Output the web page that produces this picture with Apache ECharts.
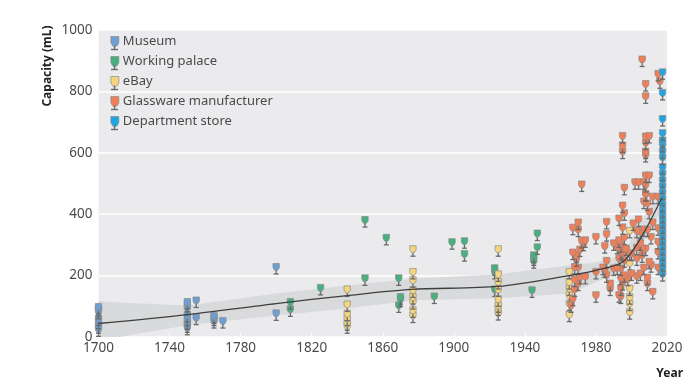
<!DOCTYPE html>
<html><head><meta charset="utf-8">
<style>html,body{margin:0;padding:0;background:#fff}#c{width:700px;height:383px}</style>
<script src="https://cdn.jsdelivr.net/npm/echarts@6/dist/echarts.min.js"></script>
</head><body><div id="c"></div>
<script>
const xTicks=[1700,1740,1780,1820,1860,1900,1940,1980,2020];
const museum=[[1700,98],[1700,90],[1700,82],[1700,60],[1700,50],[1700,35],[1700,25],
[1750,114],[1750,105],[1750,95],[1750,72],[1750,60],[1750,48],[1750,38],[1750,30],
[1755,119],[1755,63],[1765,68],[1765,60],[1765,52],[1770,52],[1800,228],[1800,77]];
const palace=[[1808,114],[1808,90],[1825,160],[1850,381],[1850,191],[1862,323],[1869,191],[1869,103],
[1870,130],[1870,122],[1889,132],[1899,309],[1906,312],[1906,270],[1923,224],[1923,212],[1923,155],
[1944,152],[1945,266],[1945,256],[1945,247],[1947,337],[1947,292]];
const ebay=[[1840,155],[1840,106],[1840,76],[1840,60],[1840,45],[1840,35],
[1877,286],[1877,212],[1877,185],[1877,152],[1877,130],[1877,114],[1877,87],[1877,70],
[1925,286],[1925,204],[1925,179],[1925,155],[1925,123],[1925,103],[1925,93],[1925,78],
[1965,212],[1965,179],[1965,158],[1965,136],[1965,109],[1965,73],
[1999,346],[1999,241],[1999,158],[1999,130],[1999,109],[1999,81]];
const glassware=[[1967,356],[1970,373],[1970,350],[1972,313],[1974,315],[1973,304],[1967,275],[1971,285],[1969,266],[1969,253],
[1968,228],[1970,226],[1971,196],[1974,196],[1968,187],[1970,174],[1968,155],[1967,125],[1966,103],
[1980,326],[1980,212],[1980,136],[1986,375],[1986,335],[1985,296],[1984,226],[1986,248],[1985,217],[1986,201],
[1990,305],[1990,223],[1988,174],[1988,158],[1993,386],[1995,428],[1996,403],[1995,357],[1996,324],[1993,315],[1994,299],
[1992,294],[1994,277],[1995,272],[1993,256],[1996,250],[1992,226],[1994,223],[1996,201],[1994,193],[1995,176],[1994,158],
[1993,136],[1994,132],[1998,190],[2000,272],[2001,370],[2004,383],[2003,346],[2005,343],[2007,350],[2009,350],[2012,373],
[2015,354],[2011,326],[2008,288],[2006,288],[2003,291],[2005,305],[2006,266],[2003,256],[2007,226],[2010,245],[2011,234],
[2000,207],[2003,198],[2005,207],[2009,193],[2009,174],[2012,147],[2007,441],[2008,466],[2012,457],[2015,457],[2010,408],
[2009,435],[1997,288],[1999,272],[2015,310],[2015,277],[2015,226],
[2006,904],[2008,824],[2008,784],[2015,857],[2016,833],[1995,655],[1995,624],[1995,604],[2008,653],[2010,655],[2008,633],
[2008,604],[2008,593],[1972,497],[1996,486],[2002,504],[2004,504],[2007,504],[2008,526],[2010,526],[2008,495],[2008,465]];
const storeYear=2017.5;
const store=[862,795,710,664,640,626,604,585,553,532,510,490,470,450,430,412,395,378,360,342,325,308,290,272,255,238,222,205];
const trendYears=[1700,1750,1800,1840,1876,1925,1965,1980,1995,2005,2017];
const trend=[44,73,109,135,155,165,200,217,244,320,452];
const bandYears=[1700,1712,1750,1800,1840,1876,1925,1965,1980,1995,2005,2017];
const bandLower=[0,0,38,70,93,119,126,142,178,217,289,413];
const bandTop=[117,112,103,142,168,190,204,234,243,266,371,478];
const names=['Museum','Working palace','eBay','Glassware manufacturer','Department store'];
const colors=['#6e9fd2','#47b07e','#f6d67c','#ef7f59','#1fa6e2'];
const STEM='#6a6a6a';
const font='"Noto Sans",sans-serif';

function glass(params,api){
  const p=api.coord([api.value(0),api.value(1)]);
  const col=api.visual('color');
  return {type:'group',x:p[0],y:p[1],children:[
    {type:'line',shape:{x1:0,y1:3,x2:0,y2:7},style:{stroke:STEM,lineWidth:1.3}},
    {type:'line',shape:{x1:-2.5,y1:7,x2:2.5,y2:7},style:{stroke:STEM,lineWidth:1.3}},
    {type:'polygon',shape:{points:[[-3.2,-3.5],[3.2,-3.5],[3.2,0.5],[2.2,2.5],[0.8,3.5],[-0.8,3.5],[-2.2,2.5],[-3.2,0.5]]},
     style:{fill:col,stroke:'#8a8a8a',lineWidth:0.7}}
  ]};
}
function glassSeries(i,data){
  const sorted=data.slice().sort((a,b)=>a[1]-b[1]);
  return {type:'custom',name:names[i],data:sorted,renderItem:glass,clip:false,z:3,
    itemStyle:{color:colors[i]},encode:{x:0,y:1},silent:true,animation:false};
}
function band(params,api){
  if(params.dataIndex!==0) return;
  const top=bandYears.map((y,i)=>api.coord([y,bandTop[i]]));
  const low=bandYears.map((y,i)=>api.coord([y,bandLower[i]])).reverse();
  return {type:'polygon',shape:{points:top.concat(low)},style:{fill:'#d9dadc'}};
}
const legendStems=[0,1,2,3,4].map(i=>{
  const cy=45.5+20*i;
  return [
    {type:'line',shape:{x1:114.5,y1:cy,x2:114.5,y2:cy+4},style:{stroke:STEM,lineWidth:1.4},z:10},
    {type:'line',shape:{x1:111,y1:cy+4,x2:118,y2:cy+4},style:{stroke:STEM,lineWidth:1.4},z:10}
  ];
}).flat();
const chart=echarts.init(document.getElementById('c'),null,{renderer:'canvas'});
chart.setOption({
  animation:false,
  backgroundColor:'#fff',
  textStyle:{fontFamily:font},
  grid:{left:98.5,right:33,top:30,bottom:46,show:true,backgroundColor:'#ebebee',borderWidth:0},
  legend:{show:true,orient:'vertical',left:105.5,top:30,itemWidth:8,itemHeight:10,itemGap:7,
    icon:'path://M0,0 L8,0 L8,6 L6.5,9 L4.8,10 L3.2,10 L1.5,9 L0,6 Z',
    itemStyle:{borderColor:'#8a8a8a',borderWidth:0.7},
    data:names,
    textStyle:{fontFamily:font,fontSize:13,color:'#4a4a4a',padding:[0,0,0,-1]}},
  graphic:legendStems.concat([
    {type:'text',x:48,y:66,rotation:Math.PI/2,style:{text:'Capacity (mL)',fontFamily:font,fontSize:12,fontWeight:'bold',fill:'#222',align:'center',verticalAlign:'middle'}},
    {type:'text',x:683,y:374,style:{text:'Year',fontFamily:font,fontSize:12,fontWeight:'bold',fill:'#222',align:'right',verticalAlign:'middle'}}
  ]),
  xAxis:{type:'value',min:1700,max:2020,
    axisLine:{show:false},splitLine:{show:false},
    axisTick:{show:true,inside:true,length:4,lineStyle:{color:'#fff',width:1},customValues:xTicks},
    axisLabel:{customValues:xTicks,color:'#4a4a4a',fontSize:13.5,fontFamily:font,margin:4,formatter:v=>String(v),showMinLabel:true,showMaxLabel:true,hideOverlap:false}},
  yAxis:{type:'value',min:0,max:1000,interval:200,
    axisLine:{show:false},axisTick:{show:false},
    splitLine:{show:true,lineStyle:{color:'#fff',width:1.5}},
    axisLabel:{color:'#4a4a4a',fontSize:13.5,fontFamily:font,margin:6,showMinLabel:true,showMaxLabel:true,formatter:v=>String(v)}},
  series:[
    {type:'custom',name:'band',data:bandYears.map(y=>[y]),renderItem:band,clip:true,z:1,silent:true,encode:{x:0},itemStyle:{color:'#d9dadc'}},
    glassSeries(0,museum),glassSeries(1,palace),glassSeries(2,ebay),glassSeries(3,glassware),
    glassSeries(4,store.map(v=>[storeYear,v])),
    {type:'line',name:'trend',data:trendYears.map((y,i)=>[y,trend[i]]),smooth:0.3,showSymbol:false,z:4,silent:true,
      lineStyle:{color:'#3f3f3f',width:1.3}}
  ]
});
</script></body></html>
